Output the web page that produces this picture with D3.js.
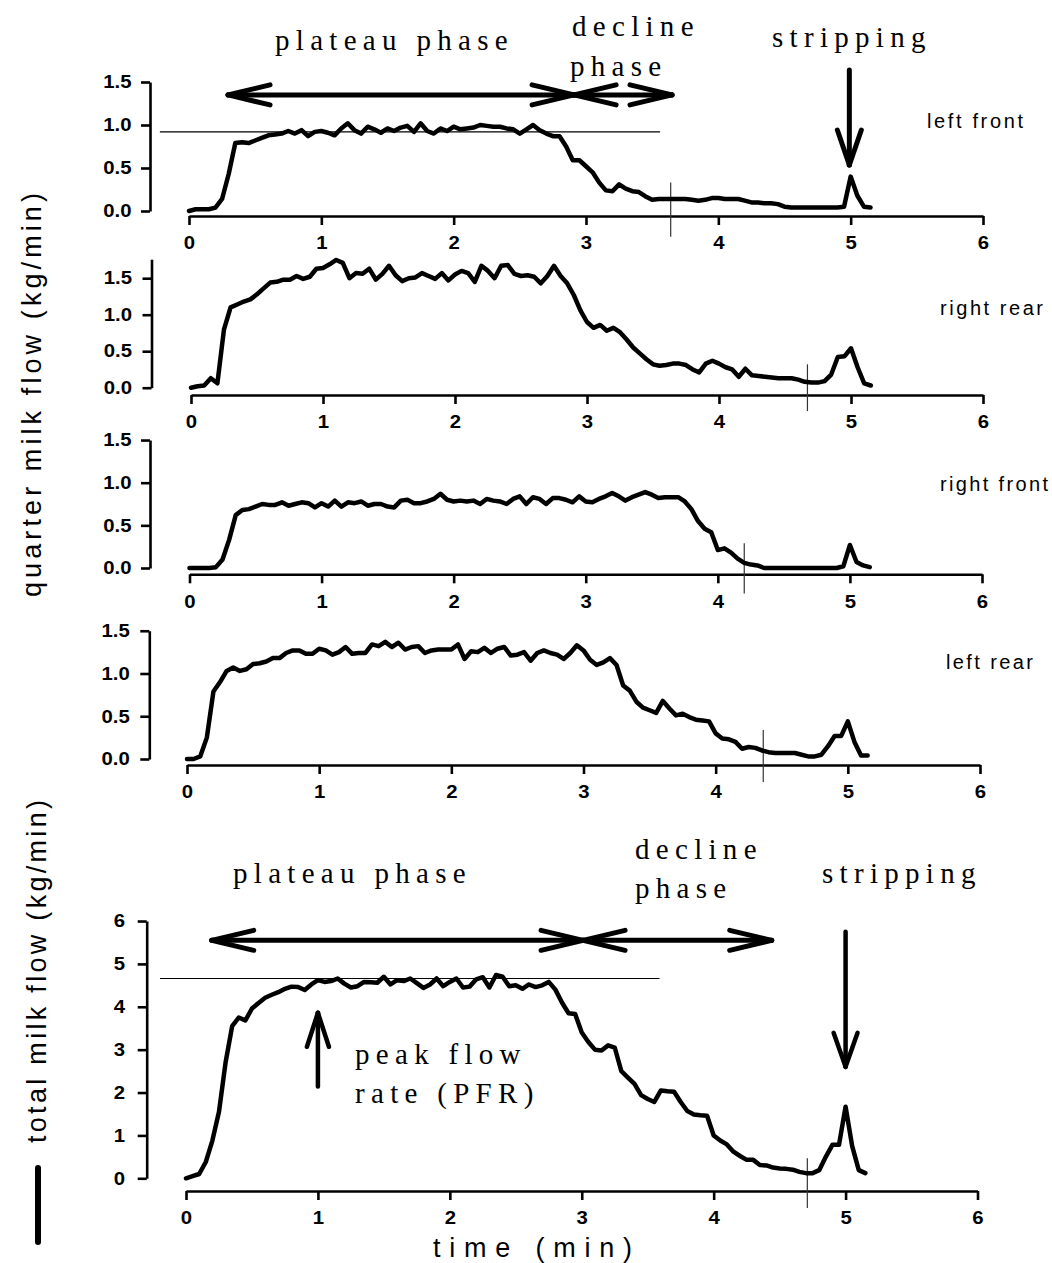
<!DOCTYPE html>
<html><head><meta charset="utf-8">
<script src="https://cdn.jsdelivr.net/npm/d3@7"></script>
<style>body{margin:0;background:#fff}svg{display:block}</style>
</head><body>
<svg id="chart" width="1052" height="1263"></svg>
<script>
// ---------------- data ----------------
const times = [
 0.00,0.05,0.10,0.15,0.20,0.25,0.30,0.35,0.40,0.45,
 0.50,0.55,0.60,0.65,0.70,0.75,0.80,0.85,0.90,0.95,
 1.00,1.05,1.10,1.15,1.20,1.25,1.30,1.35,1.40,1.45,
 1.50,1.55,1.60,1.65,1.70,1.75,1.80,1.85,1.90,1.95,
 2.00,2.05,2.10,2.15,2.20,2.25,2.30,2.35,2.40,2.45,
 2.50,2.55,2.60,2.65,2.70,2.75,2.80,2.85,2.90,2.95,
 3.00,3.05,3.10,3.15,3.20,3.25,3.30,3.35,3.40,3.45,
 3.50,3.55,3.60,3.65,3.70,3.75,3.80,3.85,3.90,3.95,
 4.00,4.05,4.10,4.15,4.20,4.25,4.30,4.35,4.40,4.45,
 4.50,4.55,4.60,4.65,4.70,4.75,4.80,4.85,4.90,4.95,
 5.00,5.05,5.10,5.15];

const leftFront = [
 0.00,0.02,0.02,0.02,0.04,0.14,0.43,0.79,0.80,0.79,
 0.82,0.85,0.88,0.89,0.90,0.93,0.90,0.94,0.87,0.92,
 0.93,0.91,0.88,0.96,1.02,0.94,0.90,0.98,0.95,0.91,
 0.96,0.93,0.97,0.99,0.92,1.02,0.93,0.90,0.96,0.93,
 0.98,0.95,0.96,0.97,1.00,0.99,0.98,0.98,0.96,0.95,
 0.90,0.95,1.00,0.94,0.90,0.87,0.87,0.75,0.59,0.59,
 0.52,0.45,0.33,0.24,0.23,0.31,0.26,0.23,0.22,0.17,
 0.13,0.14,0.14,0.14,0.14,0.14,0.13,0.12,0.13,0.15,
 0.15,0.14,0.14,0.14,0.12,0.10,0.10,0.09,0.09,0.08,
 0.05,0.04,0.04,0.04,0.04,0.04,0.04,0.04,0.04,0.05,
 0.40,0.18,0.05,0.04];

const rightRear = [
 0.00,0.02,0.03,0.13,0.06,0.80,1.10,1.14,1.18,1.21,
 1.28,1.36,1.44,1.45,1.48,1.48,1.53,1.49,1.52,1.63,
 1.64,1.69,1.75,1.71,1.50,1.57,1.56,1.63,1.48,1.56,
 1.67,1.54,1.46,1.50,1.51,1.57,1.53,1.49,1.57,1.47,
 1.55,1.60,1.57,1.45,1.67,1.60,1.50,1.67,1.68,1.56,
 1.53,1.54,1.52,1.43,1.53,1.67,1.53,1.43,1.27,1.06,
 0.90,0.82,0.86,0.78,0.82,0.76,0.66,0.55,0.47,0.39,
 0.32,0.30,0.31,0.33,0.33,0.31,0.25,0.21,0.33,0.37,
 0.33,0.28,0.25,0.15,0.26,0.17,0.16,0.15,0.14,0.13,
 0.13,0.13,0.11,0.08,0.07,0.07,0.09,0.18,0.42,0.43,
 0.54,0.28,0.06,0.03];

const rightFront = [
 0.00,0.00,0.00,0.00,0.01,0.10,0.33,0.62,0.68,0.69,
 0.72,0.75,0.74,0.74,0.77,0.73,0.75,0.77,0.76,0.71,
 0.76,0.72,0.79,0.72,0.77,0.76,0.78,0.73,0.75,0.75,
 0.72,0.71,0.79,0.80,0.76,0.76,0.78,0.81,0.87,0.80,
 0.78,0.79,0.78,0.79,0.75,0.81,0.79,0.78,0.75,0.81,
 0.84,0.75,0.83,0.81,0.75,0.82,0.82,0.80,0.77,0.84,
 0.78,0.77,0.81,0.84,0.88,0.84,0.79,0.83,0.86,0.89,
 0.86,0.82,0.83,0.83,0.83,0.78,0.69,0.55,0.46,0.42,
 0.21,0.23,0.18,0.11,0.06,0.04,0.03,0.00,0.00,0.00,
 0.00,0.00,0.00,0.00,0.00,0.00,0.00,0.00,0.00,0.02,
 0.27,0.07,0.03,0.01];

const leftRear = [
 0.00,0.00,0.03,0.25,0.79,0.90,1.03,1.07,1.03,1.05,
 1.11,1.12,1.14,1.18,1.18,1.24,1.27,1.27,1.23,1.23,
 1.29,1.27,1.22,1.25,1.31,1.23,1.24,1.24,1.34,1.32,
 1.37,1.31,1.36,1.28,1.31,1.32,1.24,1.27,1.28,1.28,
 1.28,1.34,1.17,1.26,1.25,1.30,1.24,1.29,1.31,1.21,
 1.22,1.25,1.15,1.24,1.27,1.24,1.22,1.17,1.24,1.33,
 1.27,1.16,1.10,1.13,1.18,1.10,0.86,0.80,0.67,0.60,
 0.57,0.54,0.68,0.59,0.51,0.53,0.49,0.46,0.45,0.44,
 0.30,0.24,0.23,0.20,0.12,0.14,0.13,0.10,0.08,0.07,
 0.07,0.07,0.07,0.05,0.03,0.03,0.05,0.15,0.27,0.27,
 0.44,0.20,0.04,0.04];

const totalFlow = [
 0.00,0.05,0.10,0.38,0.88,1.55,2.70,3.55,3.75,3.68,
 3.96,4.09,4.21,4.28,4.34,4.42,4.47,4.46,4.39,4.52,
 4.62,4.58,4.60,4.66,4.54,4.45,4.48,4.58,4.57,4.56,
 4.70,4.52,4.62,4.60,4.66,4.55,4.44,4.52,4.66,4.48,
 4.58,4.66,4.45,4.47,4.64,4.69,4.45,4.74,4.70,4.48,
 4.50,4.42,4.52,4.46,4.50,4.58,4.40,4.10,3.85,3.83,
 3.40,3.18,3.00,2.98,3.10,3.05,2.50,2.35,2.20,1.94,
 1.85,1.78,2.05,2.03,2.02,1.78,1.57,1.49,1.47,1.46,
 1.00,0.88,0.79,0.62,0.52,0.43,0.43,0.31,0.30,0.25,
 0.23,0.22,0.20,0.15,0.12,0.12,0.19,0.50,0.78,0.78,
 1.67,0.75,0.19,0.12];

const xTicks = [0,1,2,3,4,5,6];
const quarterYTicks = [0,0.5,1.0,1.5];
const totalYTicks = [0,1,2,3,4,5,6];
const quarterNames = ["left front","right rear","right front","left rear"];

// annotation anchors (data units: time in min, flow in kg/min)
const declineEnd = [3.64, 4.67, 4.20, 4.36, 4.71];
const plateauLevelQuarter = 0.92;
const plateauLevelTotal = 4.66;

// ---------------- layout ----------------
const svg = d3.select("#chart");
const SANS = "'Liberation Sans', Arial, sans-serif";
const SERIF = "'Liberation Serif', 'Times New Roman', serif";

const panels = [
 {values:leftFront,  name:quarterNames[0], x0:189,   x6:983,   axisX:150,   yZero:211,    unit:86,    yMax:1.5,  xAxisY:216,   yTicks:quarterYTicks, fmt:d3.format(".1f"), gap:18.5, label:[927,128],   labelLen:96,  mark:[0.33,-0.30]},
 {values:rightRear,  name:quarterNames[1], x0:191,   x6:983,   axisX:151.5, yZero:387.7,  unit:73,    yMax:1.76, xAxisY:395,   yTicks:quarterYTicks, fmt:d3.format(".1f"), gap:19.5, label:[940,315],   labelLen:103, mark:[0.32,-0.32]},
 {values:rightFront, name:quarterNames[2], x0:189.5, x6:982,   axisX:150,   yZero:568,    unit:85.3,  yMax:1.5,  xAxisY:574.3, yTicks:quarterYTicks, fmt:d3.format(".1f"), gap:18.5, label:[940,490.7], labelLen:108, mark:[0.29,-0.30]},
 {values:leftRear,   name:quarterNames[3], x0:187,   x6:980,   axisX:149.3, yZero:759,    unit:85.5,  yMax:1.5,  xAxisY:765,   yTicks:quarterYTicks, fmt:d3.format(".1f"), gap:19.5, label:[946,669.3], labelLen:87,  mark:[0.34,-0.27]},
 {values:totalFlow,  name:null,            x0:186,   x6:977.5, axisX:146.7, yZero:1178.3, unit:42.88, yMax:6,    xAxisY:1191,  yTicks:totalYTicks,   fmt:d3.format("d"),   gap:21.7, label:null,        labelLen:0,   mark:[0.47,-0.69]}
];

const TICK_SX = 1.13;

panels.forEach((p, i) => {
  p.x = d3.scaleLinear().domain([0, 6]).range([p.x0, p.x6]);
  p.y = d3.scaleLinear().domain([0, p.yMax]).range([p.yZero, p.yZero - p.yMax * p.unit]);

  const ya = svg.append("g").attr("transform", `translate(${p.axisX},0)`)
    .call(d3.axisLeft(p.y).tickValues(p.yTicks).tickFormat(p.fmt).tickSize(9).tickSizeOuter(0));
  const xa = svg.append("g").attr("transform", `translate(0,${p.xAxisY})`)
    .call(d3.axisBottom(p.x).tickValues(xTicks).tickFormat(d3.format("d")).tickSize(9).tickSizeOuter(0).tickPadding(11.5));
  [ya, xa].forEach(a => {
    a.select(".domain").attr("stroke", "#000").attr("stroke-width", 2.6);
    a.selectAll(".tick line").attr("stroke", "#000").attr("stroke-width", 2.6);
    a.selectAll(".tick text").attr("fill", "#000")
      .style("font-family", SANS).style("font-weight", "bold").style("font-size", "18px");
  });
  ya.selectAll(".tick text").attr("x", 0)
    .attr("transform", `translate(${-p.gap},0) scale(${TICK_SX},1)`);
  xa.selectAll(".tick text").attr("transform", `scale(${TICK_SX},1)`);

  svg.append("line")
    .attr("x1", p.x(declineEnd[i])).attr("x2", p.x(declineEnd[i]))
    .attr("y1", p.y(p.mark[0])).attr("y2", p.y(p.mark[1]))
    .attr("stroke", "#333").attr("stroke-width", 1.2);

  const pts = times.map((t, k) => [t, p.values[k]]);
  svg.append("path").datum(pts)
    .attr("d", d3.line().x(d => p.x(d[0])).y(d => p.y(d[1])))
    .attr("fill", "none").attr("stroke", "#000").attr("stroke-width", 4.5)
    .attr("stroke-linejoin", "round").attr("stroke-linecap", "round");

  if (p.name) {
    svg.append("text").attr("x", p.label[0]).attr("y", p.label[1])
      .attr("textLength", p.labelLen).attr("lengthAdjust", "spacing")
      .style("font-family", SANS).style("font-size", "20px").attr("fill", "#000")
      .text(p.name);
  }
});

const P1 = panels[0], P5 = panels[4];
svg.append("line").attr("x1", P1.x(-0.22)).attr("x2", P1.x(3.56))
  .attr("y1", P1.y(plateauLevelQuarter)).attr("y2", P1.y(plateauLevelQuarter))
  .attr("stroke", "#000").attr("stroke-width", 1.1);
svg.append("line").attr("x1", P5.x(-0.197)).attr("x2", P5.x(3.59))
  .attr("y1", P5.y(plateauLevelTotal)).attr("y2", P5.y(plateauLevelTotal))
  .attr("stroke", "#000").attr("stroke-width", 1.1);

function seg(x1, y1, x2, y2, w) {
  svg.append("line").attr("x1", x1).attr("y1", y1).attr("x2", x2).attr("y2", y2)
    .attr("stroke", "#000").attr("stroke-width", w).attr("stroke-linecap", "round");
}
function head(tx, ty, dx, dy, len, half, w) {
  const bx = tx - dx * len, by = ty - dy * len;
  seg(tx, ty, bx - dy * half, by + dx * half, w);
  seg(tx, ty, bx + dy * half, by - dx * half, w);
}
function doubleArrow(p, t1, t2, v, w) {
  const x1 = p.x(t1), x2 = p.x(t2), y = p.y(v);
  seg(x1, y, x2, y, w);
  head(x1, y, -1, 0, 42, 10, w);
  head(x2, y, 1, 0, 42, 10, w);
}
function vArrow(p, t, vFrom, vTo, w, len, half) {
  const x = p.x(t), y1 = p.y(vFrom), y2 = p.y(vTo);
  seg(x, y1, x, y2, w);
  const dir = y2 > y1 ? 1 : -1;
  head(x, y2, 0, dir, len, half, w);
}

const topPhaseLevel = 1.35;
doubleArrow(P1, 0.295, 2.91, topPhaseLevel, 5);
doubleArrow(P1, 2.91, 3.65, topPhaseLevel, 5);
const bottomPhaseLevel = 5.55;
doubleArrow(P5, 0.195, 3.01, bottomPhaseLevel, 5);
doubleArrow(P5, 3.01, 4.44, bottomPhaseLevel, 5);

vArrow(P1, 4.99, 1.64, 0.535, 5, 35, 12);
vArrow(P5, 5.0, 5.75, 2.60, 4.5, 34, 12);
vArrow(P5, 1.0, 2.14, 3.86, 4.5, 34, 11);

function serif(txt, x, y) {
  svg.append("text").attr("x", x).attr("y", y)
    .style("font-family", SERIF).style("font-size", "29px").style("letter-spacing", "6.3px")
    .attr("fill", "#000").text(txt);
}
serif("plateau phase", 275, 50);
serif("decline", 572, 36);
serif("phase", 570, 76);
serif("stripping", 772, 47);
serif("plateau phase", 233, 883);
serif("decline", 635, 859);
serif("phase", 635, 898);
serif("stripping", 822, 883);
serif("peak flow", 355, 1064);
serif("rate (PFR)", 355, 1103);

svg.append("text").attr("transform", "translate(41,597) rotate(-90)")
  .attr("textLength", 404).attr("lengthAdjust", "spacing")
  .style("font-family", SANS).style("font-size", "27px").attr("fill", "#000")
  .text("quarter milk flow   (kg/min)");
svg.append("text").attr("transform", "translate(46,1143) rotate(-90)")
  .attr("textLength", 343).attr("lengthAdjust", "spacing")
  .style("font-family", SANS).style("font-size", "27px").attr("fill", "#000")
  .text("total milk flow   (kg/min)");
svg.append("line").attr("x1", 38).attr("x2", 38).attr("y1", 1168).attr("y2", 1242)
  .attr("stroke", "#000").attr("stroke-width", 6).attr("stroke-linecap", "round");
svg.append("text").attr("x", 433).attr("y", 1257)
  .attr("textLength", 199).attr("lengthAdjust", "spacing")
  .style("font-family", SANS).style("font-size", "27px").attr("fill", "#000")
  .text("time (min)");
</script>
</body></html>
